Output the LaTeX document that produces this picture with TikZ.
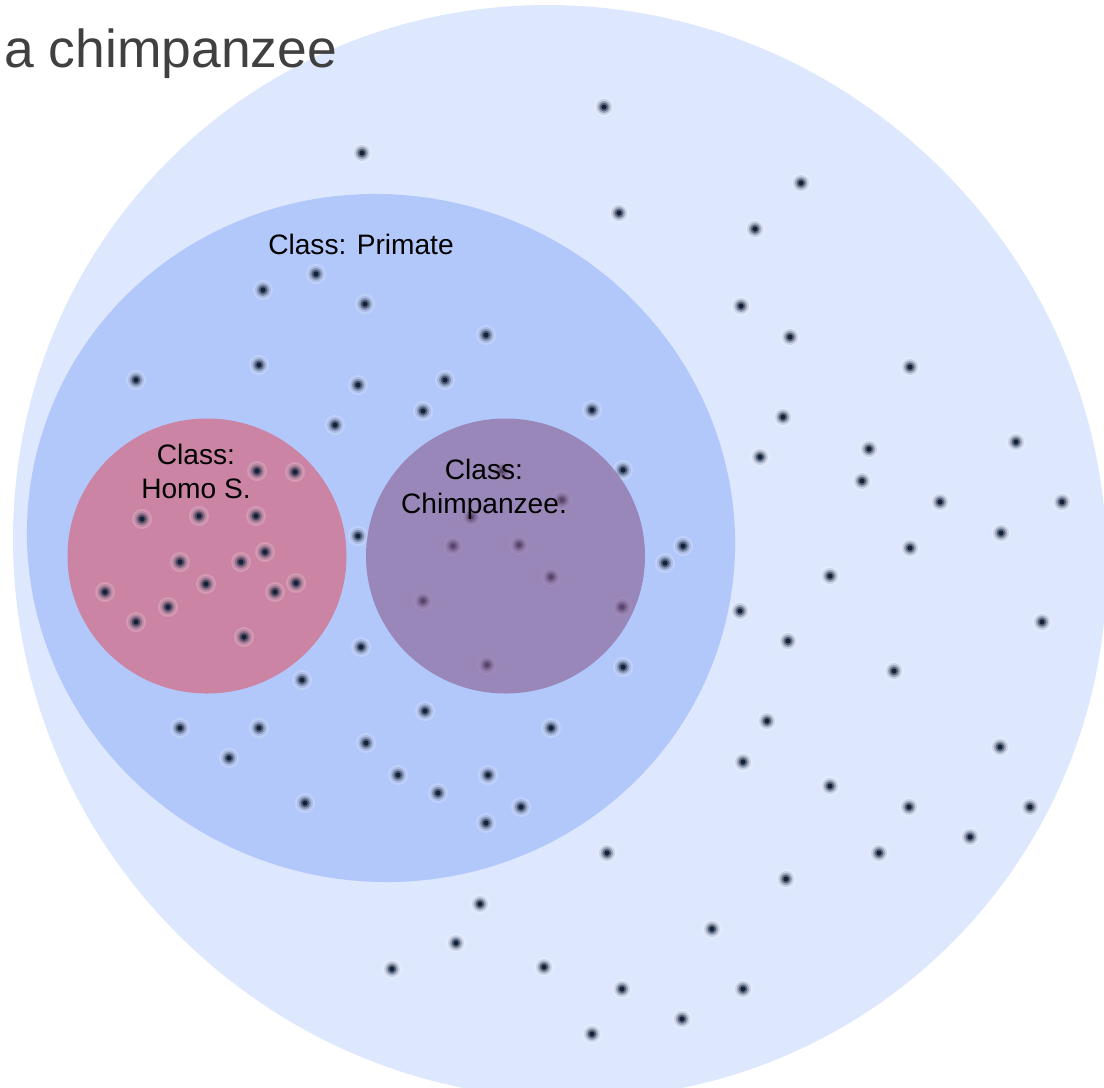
\documentclass[tikz,border=0pt]{standalone}
\usepackage{fontspec}
\setmainfont{Liberation Sans}

\definecolor{outerblue}{HTML}{DDE7FD}
\definecolor{primateblue}{HTML}{B3C8FA}
\definecolor{homopink}{HTML}{CC84A4}
\definecolor{chimpviolet}{RGB}{136,92,143}
\definecolor{dotnavy}{HTML}{14233A}
\definecolor{titlegray}{HTML}{404040}

\tikzset{
  specimen/.pic={
    \fill[white, opacity=.18] (0,0) circle[radius=10];
    \fill[dotnavy, opacity=.12] (0,0) circle[radius=8];
    \fill[dotnavy, opacity=.25] (0,0) circle[radius=6];
    \fill[dotnavy, opacity=.45] (0,0) circle[radius=4.5];
    \fill[dotnavy] (0,0) circle[radius=2.6];
  },
  classlabel/.style={font=\fontsize{20}{24}\selectfont, align=center, inner sep=0pt, anchor=base},
}

\begin{document}
\begin{tikzpicture}[x=0.025cm, y=-0.025cm]
\useasboundingbox (0,0) rectangle (1104,1087);
\clip (0,0) rectangle (1104,1087);

% the sets
\fill[outerblue, rotate around={-45:(560,552)}] (560,552) ellipse [x radius=553.4, y radius=540.5];
\fill[primateblue, rotate around={-14.2:(381,538)}] (381,538) ellipse [x radius=354.7, y radius=343.3];
\fill[homopink] (207,556) ellipse [x radius=139.5, y radius=137.5];

% members outside primates
\foreach \x/\y in {604/107, 362/153, 801/183, 619/213, 755/229, 741/306, 790/337,
  910/367, 783/417, 1016/442, 869/449, 760/457, 862/481, 940/502, 1062/502,
  1001/533, 910/548, 830/576, 1042/622, 740/611, 788/641, 894/671, 767/721,
  743/762, 1000/747, 830/786, 909/807, 1030/807, 970/837, 879/853, 607/853,
  786/879, 480/904, 712/929, 456/943, 392/969, 544/967, 622/989, 743/989,
  682/1019, 592/1034}
  \pic at (\x,\y) {specimen};

% primates
\foreach \x/\y in {263/290, 316/274, 365/304, 486/335, 136/380, 259/365, 358/385,
  445/380, 423/411, 335/425, 592/410, 623/470, 358/536, 683/546, 665/563,
  361/647, 302/680, 623/667, 180/728, 259/728, 229/758, 425/711, 366/743,
  551/728, 398/775, 488/775, 438/793, 305/803, 521/807, 486/823}
  \pic at (\x,\y) {specimen};

% homo sapiens
\foreach \x/\y in {257/471, 295/472, 142/519, 199/516, 256/516, 180/562, 241/562,
  265/552, 206/584, 105/592, 275/592, 296/583, 168/607, 136/622, 244/637}
  \pic at (\x,\y) {specimen};

% chimpanzees (under the violet set)
\foreach \x/\y in {502/471, 562/500, 471/517, 453/546, 519/545, 551/577, 423/601,
  622/607, 487/665}
  \pic at (\x,\y) {specimen};

\fill[chimpviolet, opacity=.6] (505.5,556) ellipse [x radius=139.5, y radius=137.5];

\node[anchor=base west, inner sep=0pt, text=titlegray, font=\fontsize{38}{46}\selectfont] (title) at (4,67) {a chimpanzee};
\node[classlabel] (primate) at (361,254) {Class: Primate};
\node[classlabel] (homo) at (196,498) {Class:\\Homo S.};
\node[classlabel] (chimp) at (484,513) {Class:\\Chimpanzee.};
\end{tikzpicture}
\end{document}
